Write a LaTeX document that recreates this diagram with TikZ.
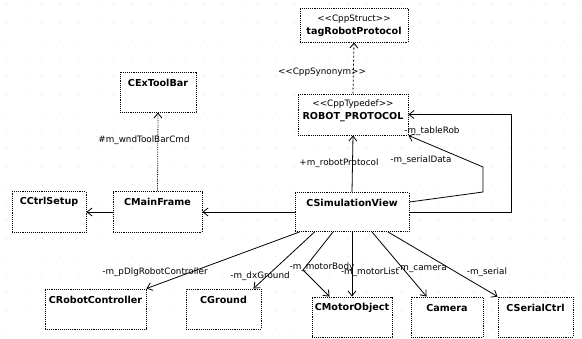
\documentclass[tikz,border=0pt]{standalone}
\usepackage{fontspec}
\setmainfont{DejaVu Sans}
\usetikzlibrary{arrows.meta}
\tikzset{
  cls/.style={draw=black, densely dotted, line width=0.9pt, fill=white, inner sep=0pt},
  clsname/.style={font=\bfseries\fontsize{9.6}{11}\selectfont, inner sep=0pt},
  stereo/.style={font=\fontsize{8.8}{10}\selectfont, inner sep=0pt},
  rolelabel/.style={font=\fontsize{8.8}{10}\selectfont, inner sep=0.5pt},
  assoc/.style={draw=black, line width=0.8pt, -{Straight Barb[length=5pt,width=8pt]}},
  toolbarlink/.style={assoc, densely dotted},
  synonym/.style={assoc, dash pattern=on 2pt off 2pt},
}
\begin{document}
\begin{tikzpicture}[x=1pt,y=-1pt]
\useasboundingbox (0,0) rectangle (582,338);
\fill[white] (0,0) rectangle (582,338);
% editor grid
\foreach \x in {6,24,...,582}
  \foreach \y in {4,22,...,338}
    \fill[gray!50] (\x,\y) circle (0.5pt);

% classes
\node[cls, minimum width=108pt, minimum height=34pt] (tag) at (354,25) {};
\node[stereo] (tag-s) at ([yshift=-12pt]tag.north) {<{}<CppStruct>{}>};
\node[clsname] (tag-n) at ([yshift=-24pt]tag.north) {tagRobotProtocol};

\node[cls, minimum width=110pt, minimum height=41pt] (robot) at (353,114.5) {};
\node[stereo] (robot-s) at ([yshift=-11pt]robot.north) {<{}<CppTypedef>{}>};
\node[clsname] (robot-n) at ([yshift=-24pt]robot.north) {ROBOT\_PROTOCOL};

\node[cls, minimum width=76pt, minimum height=40pt] (toolbar) at (158,92) {};
\node[clsname] (toolbar-n) at ([yshift=-11pt]toolbar.north) {CExToolBar};

\node[cls, minimum width=74pt, minimum height=41pt] (ctrl) at (49,212) {};
\node[clsname] (ctrl-n) at ([yshift=-11pt]ctrl.north) {CCtrlSetup};

\node[cls, minimum width=89pt, minimum height=41pt] (mainframe) at (157.5,212) {};
\node[clsname] (mainframe-n) at ([yshift=-11pt]mainframe.north) {CMainFrame};

\node[cls, minimum width=114pt, minimum height=39pt] (simview) at (352,212) {};
\node[clsname] (simview-n) at ([yshift=-11pt]simview.north) {CSimulationView};

\node[cls, minimum width=101pt, minimum height=40pt] (robotctrl) at (95.5,309) {};
\node[clsname] (robotctrl-n) at ([yshift=-11pt]robotctrl.north) {CRobotController};

\node[cls, minimum width=75pt, minimum height=40pt] (ground) at (223.5,309) {};
\node[clsname] (ground-n) at ([yshift=-11pt]ground.north) {CGround};

\node[cls, minimum width=80pt, minimum height=40pt] (motor) at (352,317) {};
\node[clsname] (motor-n) at ([yshift=-11pt]motor.north) {CMotorObject};

\node[cls, minimum width=72pt, minimum height=40pt] (camera) at (447,317) {};
\node[clsname] (camera-n) at ([yshift=-11pt]camera.north) {Camera};

\node[cls, minimum width=75pt, minimum height=40pt] (serial) at (535.5,317) {};
\node[clsname] (serial-n) at ([yshift=-11pt]serial.north) {CSerialCtrl};

% bend points
\coordinate (sd1) at (483,192);
\coordinate (sd2) at (483,167);
\coordinate (tr) at (511,114.5);
\coordinate (mb) at (303,270);

% connectors
\draw[toolbarlink] (mainframe.north) -- (toolbar.south);
\draw[assoc] (mainframe.west) -- (ctrl.east);
\draw[assoc] (simview.west) -- (mainframe.east);
\draw[assoc] (simview.north) -- (robot.south);
\draw[synonym] (robot.north) -- (tag.south);
\draw[assoc] ([yshift=10pt]simview.east) -- (sd1) -- (sd2) -- (robot.south east);
\draw[assoc] (simview.east) -| (tr) -- (robot.east);
\draw[assoc] ([xshift=5pt]simview.south west) -- (robotctrl.north east);
\draw[assoc] ([xshift=20pt]simview.south west) -- ([xshift=-8pt]ground.north east);
\draw[assoc] ([xshift=-19pt]simview.south) -- (mb) -- ([xshift=18pt]motor.north west);
\draw[assoc] (simview.south) -- (motor.north);
\draw[assoc] ([xshift=20pt]simview.south) -- ([xshift=16pt]camera.north west);
\draw[assoc] ([xshift=36pt]simview.south) -- (serial.north west);

% role and stereotype labels
\node[rolelabel] (l-toolbar) at (144,140) {\#m\_wndToolBarCmd};
\node[rolelabel] (l-proto) at (339,163) {+m\_robotProtocol};
\node[rolelabel] (l-syn) at (322,72) {<{}<CppSynonym>{}>};
\node[rolelabel] (l-serialdata) at (421,160) {-m\_serialData};
\node[rolelabel] (l-table) at (432,131) {-m\_tableRob};
\node[rolelabel] (l-robotctrl) at (155,272) {-m\_pDlgRobotController};
\node[rolelabel] (l-ground) at (260,276) {-m\_dxGround};
\node[rolelabel] (l-body) at (322,267) {-m\_motorBody};
\node[rolelabel] (l-list) at (370,272) {-m\_motorList};
\node[rolelabel] (l-camera) at (422,269) {-m\_camera};
\node[rolelabel] (l-serial) at (487,272) {-m\_serial};
\end{tikzpicture}
\end{document}
